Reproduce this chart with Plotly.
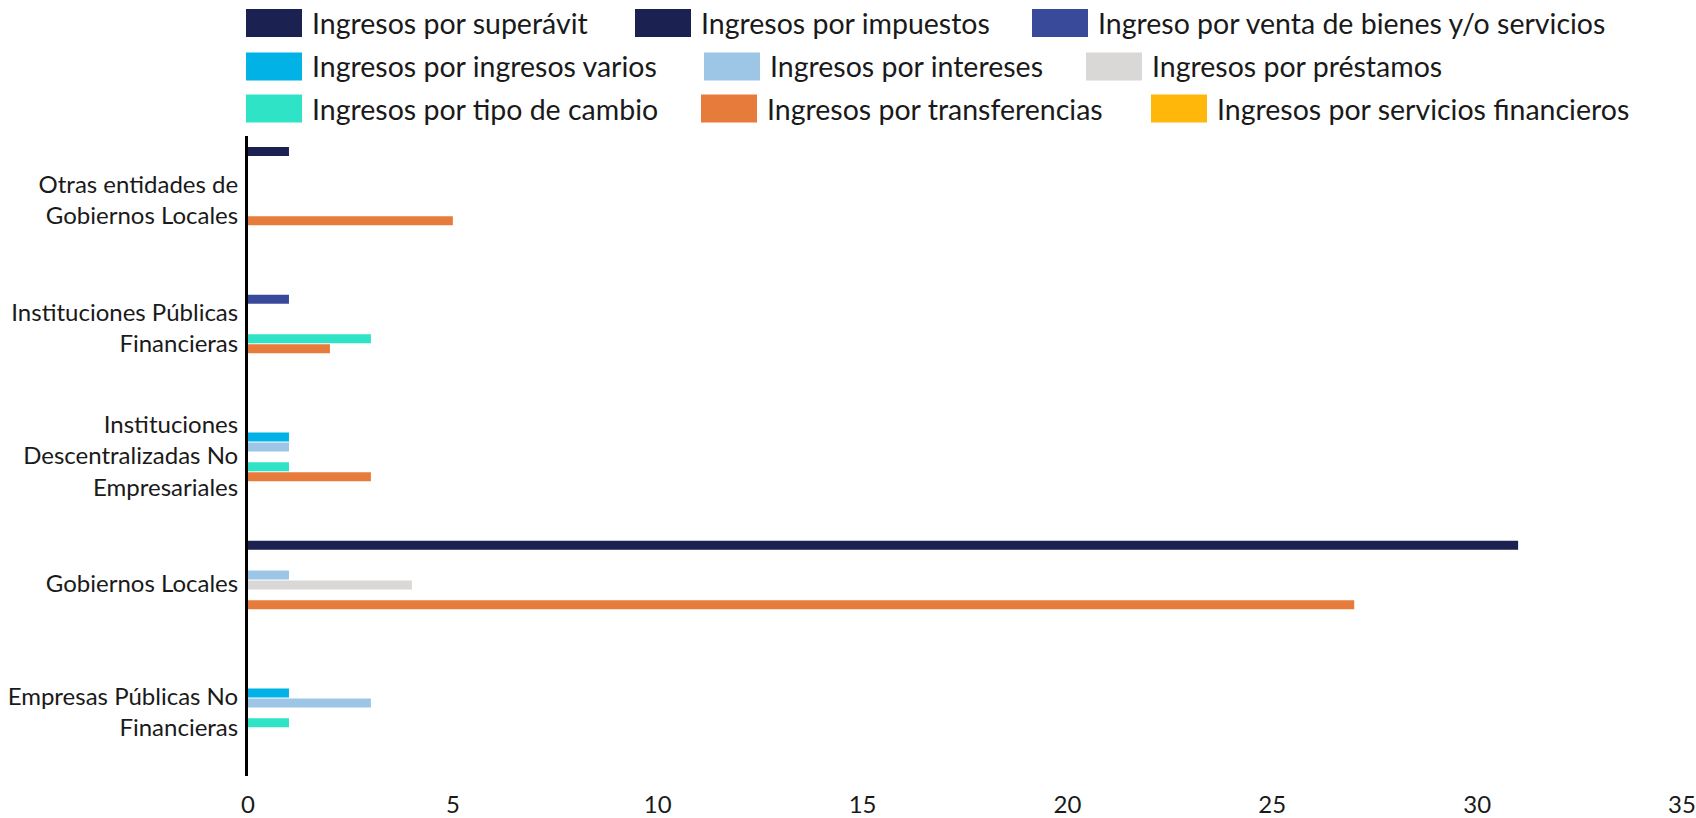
import plotly.graph_objects as go

# ---- data ----
categories = [
    "Empresas Públicas No<br>Financieras",
    "Gobiernos Locales",
    "Instituciones<br>Descentralizadas No<br>Empresariales",
    "Instituciones Públicas<br>Financieras",
    "Otras entidades de<br>Gobiernos Locales",
]
series_names = [
    "Ingresos por superávit",
    "Ingresos por impuestos",
    "Ingreso por venta de bienes y/o servicios",
    "Ingresos por ingresos varios",
    "Ingresos por intereses",
    "Ingresos por préstamos",
    "Ingresos por tipo de cambio",
    "Ingresos por transferencias",
    "Ingresos por servicios financieros",
]
superavit = [None, None, None, None, 1]
impuestos = [None, 31, None, None, None]
venta_bienes = [None, None, None, 1, None]
ingresos_varios = [1, None, 1, None, None]
intereses = [3, 1, 1, None, None]
prestamos = [None, 4, None, None, None]
tipo_cambio = [1, None, 1, 3, None]
transferencias = [None, 27, 3, 2, 5]
servicios_financieros = [None, None, None, None, None]
series_values = [superavit, impuestos, venta_bienes, ingresos_varios, intereses,
                 prestamos, tipo_cambio, transferencias, servicios_financieros]
x_ticks = [0, 5, 10, 15, 20, 25, 30, 35]

colors = ["#1B2151", "#1B2151", "#3A4A9A", "#00B2E6", "#9CC5E6",
          "#D9D8D6", "#2FE3C7", "#E67B3C", "#FFB70A"]

# ---- layout geometry (pixels) ----
W, H = 1696, 818
ML, MR, MT, MB = 248, 14, 136, 42
plot_w = W - ML - MR
plot_h = H - MT - MB
band_px = plot_h / len(categories)
slot_px = 9.9
first_slot_px = -48.6   # offset of first bar centre from band centre (downwards)
bar_px = 9.0

fig = go.Figure()
for i, (name, vals, col) in enumerate(zip(series_names, series_values, colors)):
    centre = -(first_slot_px + i * slot_px) / band_px
    width = bar_px / band_px
    fig.add_trace(go.Bar(
        name=name, y=categories, x=vals, orientation="h",
        marker=dict(color=col, line=dict(width=0)),
        offset=centre - width / 2, width=width,
        showlegend=False,
    ))

# ---- manual legend (large swatches) ----
def px_to_paper_x(px):
    return (px - ML) / plot_w

def px_to_paper_y(py):
    return (H - MB - py) / plot_h

legend_layout = [  # (row centre y, swatch x0) for each series
    (23, 246), (23, 635), (23, 1032),
    (66.5, 246), (66.5, 704), (66.5, 1086),
    (108.5, 246), (108.5, 701), (108.5, 1151),
]
sw_w, sw_h = 56, 28
shapes = []
annotations = []
for (cy, x0), name, col in zip(legend_layout, series_names, colors):
    shapes.append(dict(
        type="rect", xref="paper", yref="paper",
        x0=px_to_paper_x(x0), x1=px_to_paper_x(x0 + sw_w),
        y0=px_to_paper_y(cy + sw_h / 2), y1=px_to_paper_y(cy - sw_h / 2),
        fillcolor=col, line=dict(width=0),
    ))
    annotations.append(dict(
        xref="paper", yref="paper", x=px_to_paper_x(x0 + sw_w + 8),
        y=px_to_paper_y(cy), xanchor="left", yanchor="middle",
        text=name, showarrow=False,
        font=dict(family="Lato", size=28.5, color="#1a1a1a"),
    ))

fig.update_layout(
    width=W, height=H,
    margin=dict(l=ML, r=MR, t=MT, b=MB, autoexpand=False),
    paper_bgcolor="white", plot_bgcolor="white",
    barmode="overlay",
    showlegend=False,
    shapes=shapes, annotations=annotations,
    font=dict(family="Lato", color="#1a1a1a"),
    xaxis=dict(range=[0, 35], tickvals=x_ticks, showgrid=False, zeroline=False,
               showline=False, ticks="", ticklabelstandoff=12, automargin=False,
               tickfont=dict(size=24, family="Lato")),
    yaxis=dict(type="category", categoryorder="array", categoryarray=categories,
               range=[-0.5, 4.5], showgrid=False, zeroline=False, automargin=False,
               showline=True, linecolor="black", linewidth=3, ticks="",
               ticklabelstandoff=2,
               tickfont=dict(size=24, family="Lato")),
)

fig.write_html(
    "out.html",
    config={"displayModeBar": False},
    post_script="document.body.style.margin='0';document.body.style.overflow='hidden';",
)
